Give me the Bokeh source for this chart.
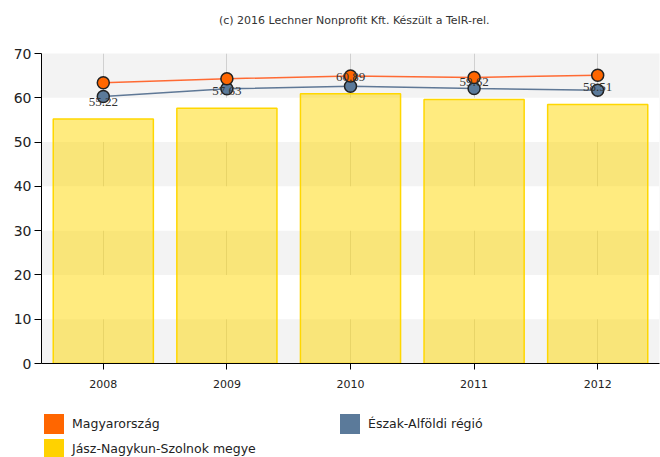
from bokeh.plotting import figure
from bokeh.layouts import column
from bokeh.models import ColumnDataSource, Legend, LegendItem, FixedTicker, Label, LabelSet, Range1d
from bokeh.embed import file_html
from bokeh.resources import INLINE

years = ["2008", "2009", "2010", "2011", "2012"]
megye = [55.22, 57.63, 60.89, 59.62, 58.51]
orszag = [63.4, 64.3, 64.9, 64.6, 65.1]
regio = [60.3, 62.05, 62.6, 62.1, 61.7]
y_ticks = [0, 10, 20, 30, 40, 50, 60, 70]
series_names = ["Magyarország", "Észak-Alföldi régió", "Jász-Nagykun-Szolnok megye"]
title_text = "(c) 2016 Lechner Nonprofit Kft. Készült a TeIR-rel."

FONT = "DejaVu Sans"
W = 660

src = ColumnDataSource(dict(
    year=years, megye=megye, orszag=orszag, regio=regio,
    lbl=["%.2f" % v for v in megye],
))

# ---- title strip
tf = figure(width=W, height=40, x_range=Range1d(0, W), y_range=Range1d(0, 40),
            output_backend="svg", toolbar_location=None, min_border=0)
tf.axis.visible = False
tf.grid.visible = False
tf.outline_line_color = None
tf.background_fill_color = "white"
tf.border_fill_color = "white"
tf.add_layout(Label(x=334, y=20, text=title_text, text_align="center", text_baseline="middle",
                    text_font=FONT, text_font_size="11px", text_color="#333333"))

# ---- main chart
p = figure(x_range=years, y_range=Range1d(0, 70), width=W, height=355,
           output_backend="svg", toolbar_location=None,
           min_border_left=41, min_border_right=1, min_border_top=13, min_border_bottom=32)

p.background_fill_color = "#f3f3f3"
p.border_fill_color = "white"
p.outline_line_color = None

p.ygrid.ticker = FixedTicker(ticks=y_ticks)
p.ygrid.grid_line_color = None
p.ygrid.band_fill_color = "white"
p.ygrid.band_fill_alpha = 1
p.xgrid.grid_line_color = "#d0d0d0"

p.yaxis.ticker = FixedTicker(ticks=y_ticks)
for ax in (p.xaxis[0], p.yaxis[0]):
    ax.axis_line_color = "black"
    ax.major_tick_line_color = "black"
    ax.minor_tick_line_color = None
    ax.major_tick_in = 0
    ax.major_label_text_font = FONT
    ax.major_label_text_color = "#222222"
p.yaxis.major_tick_out = 7
p.yaxis.major_label_standoff = 3
p.yaxis.major_label_text_font_size = "14px"
p.xaxis.major_tick_out = 6
p.xaxis.major_label_standoff = 10
p.xaxis.major_label_text_font_size = "11px"

bar_color = "#FFD700"
p.vbar(x="year", top="megye", width=0.81, source=src, fill_color=bar_color, fill_alpha=0.5,
       line_color=bar_color, line_width=1.5)

labels = LabelSet(x="year", y="megye", text="lbl", source=src, text_align="center",
                  text_baseline="alphabetic", y_offset=13, text_font=FONT, text_font_size="13px",
                  text_color="#333333")
p.add_layout(labels)

p.line(x="year", y="regio", source=src, line_color="#5f7896", line_width=1.5)
p.scatter(x="year", y="regio", source=src, size=12, fill_color="#5b7a9a",
          line_color="#222222", line_width=1.5)
p.line(x="year", y="orszag", source=src, line_color="#ff6a33", line_width=1.5)
p.scatter(x="year", y="orszag", source=src, size=12, fill_color="#ff6600",
          line_color="#222222", line_width=1.5)

# ---- legend strip
lg = figure(width=W, height=62, x_range=Range1d(0, 1), y_range=Range1d(0, 1),
            output_backend="svg", toolbar_location=None,
            min_border_left=41, min_border_right=1, min_border_top=16, min_border_bottom=0)
lg.axis.visible = False
lg.grid.visible = False
lg.outline_line_color = None
lg.background_fill_color = "white"
lg.border_fill_color = "white"

sw_colors = ["#ff6600", "#5b7a9a", "#ffd200"]
items = []
for name, c in zip(series_names, sw_colors):
    # zero-height proxy glyph, only used to draw the legend swatch
    r = lg.vbar(x=[0], top=[0], bottom=[0], width=0.01, fill_color=c, line_color=None)
    items.append(LegendItem(label=name, renderers=[r]))

legend = Legend(items=items, ncols=2, orientation="horizontal", location="top_left",
                glyph_width=25, glyph_height=25, label_standoff=6, label_width=265,
                spacing=0, padding=3, margin=0, border_line_color=None,
                background_fill_alpha=0, label_text_font=FONT, label_text_font_size="12.5px",
                label_text_color="#222222", label_height=25)
lg.add_layout(legend, "center")

layout = column(tf, p, lg, spacing=0)
open("out.html", "w").write(file_html(layout, INLINE))
